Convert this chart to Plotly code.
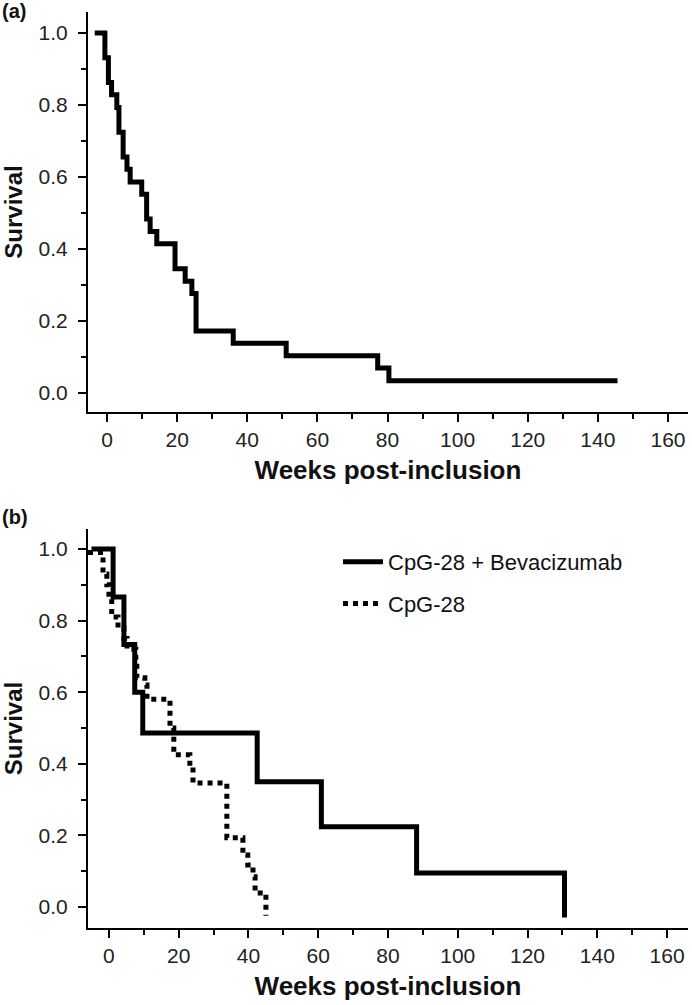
import plotly.graph_objects as go

# Panel (a): Kaplan-Meier, all patients
weeks_a = [-3.5, -0.6, 0.4, 1.3, 2.8, 3.4, 4.6, 5.7, 6.6, 9.9, 11.3, 12.3, 14.2,
           19.4, 22.3, 24.2, 25.4, 36.0, 51.1, 77.2, 80.4, 145.6]
surv_a = [1.0, 0.931, 0.862, 0.828, 0.793, 0.724, 0.655, 0.621, 0.586, 0.552, 0.483,
          0.448, 0.414, 0.345, 0.310, 0.276, 0.172, 0.138, 0.103, 0.069, 0.034, 0.034]

# Panel (b): CpG-28 + Bevacizumab
weeks_bev = [-5.0, 1.2, 4.3, 7.4, 9.7, 42.5, 60.9, 88.2, 130.6]
surv_bev = [1.0, 0.866, 0.733, 0.600, 0.486, 0.350, 0.224, 0.095, -0.03]

# Panel (b): CpG-28
weeks_cpg = [-6.0, -1.7, -0.6, 0.0, 0.8, 2.6, 4.3, 5.2, 7.7, 8.0, 10.3, 10.9, 17.5,
             18.6, 23.2, 24.1, 33.8, 38.4, 39.8, 41.3, 41.9, 45.0]
surv_cpg = [0.99, 0.93, 0.90, 0.86, 0.81, 0.78, 0.75, 0.72, 0.69, 0.64, 0.62, 0.58, 0.50,
            0.425, 0.39, 0.346, 0.193, 0.145, 0.117, 0.084, 0.039, -0.025]

names = ["CpG-28 + Bevacizumab", "CpG-28"]
y_ticks = [0.0, 0.2, 0.4, 0.6, 0.8, 1.0]
y_ticktext = ["0.0", "0.2", "0.4", "0.6", "0.8", "1.0"]
x_ticks = [0, 20, 40, 60, 80, 100, 120, 140, 160]

FONT = "Arial, Liberation Sans, sans-serif"
W, H = 692, 1005
ML, MR, MT, MB = 88, 4, 12, 77
PH = H - MT - MB

def py(px):
    return (H - MB - px) / PH

fig = go.Figure()

fig.add_trace(go.Scatter(x=weeks_a, y=surv_a, mode="lines", line_shape="hv",
                         line=dict(color="black", width=5), showlegend=False,
                         xaxis="x", yaxis="y"))
fig.add_trace(go.Scatter(x=weeks_bev, y=surv_bev, mode="lines", line_shape="hv",
                         name=names[0], legendgroup="g1",
                         line=dict(color="black", width=5),
                         xaxis="x2", yaxis="y2"))
fig.add_trace(go.Scatter(x=weeks_cpg, y=surv_cpg, mode="lines", line_shape="hv",
                         name=names[1], legendgroup="g2",
                         line=dict(color="black", width=5, dash="5px,5px"),
                         xaxis="x2", yaxis="y2"))

axis_common = dict(showline=True, linecolor="black", linewidth=2, ticks="outside",
                   ticklen=8, tickwidth=2, tickcolor="black", showgrid=False,
                   zeroline=False, tickfont=dict(family=FONT, size=21, color="#222"),
                   mirror=False)

xa = dict(axis_common, tickvals=x_ticks, ticktext=[str(v) for v in x_ticks],
          minor=dict(dtick=10, tick0=0, ticks="outside", ticklen=5, tickwidth=2,
                     tickcolor="black", showgrid=False),
          title=dict(text="Weeks post-inclusion", standoff=11,
                     font=dict(family=FONT, size=26, color="#111", weight="bold")))
ya = dict(axis_common, tickvals=y_ticks, ticktext=y_ticktext, ticklabelstandoff=6,
          minor=dict(dtick=0.1, tick0=0, ticks="outside", ticklen=5, tickwidth=2,
                     tickcolor="black", showgrid=False),
          title=dict(text="Survival", standoff=15,
                     font=dict(family=FONT, size=24, color="#111", weight="bold")))

fig.update_layout(
    width=W, height=H,
    margin=dict(l=ML, r=MR, t=MT, b=MB),
    paper_bgcolor="white", plot_bgcolor="white",
    xaxis=dict(xa, range=[-5.42, 165.7], domain=[0, 1], anchor="y"),
    yaxis=dict(ya, range=[-0.053, 1.058], domain=[py(412), 1.0], anchor="x"),
    xaxis2=dict(xa, range=[-6.0, 166.0], domain=[0, 1], anchor="y2"),
    yaxis2=dict(ya, range=[-0.059, 1.056], domain=[0.0, py(529)], anchor="x2"),
    legend=dict(x=(338 - ML) / 600, y=py(541), xanchor="left", yanchor="top",
                font=dict(family=FONT, size=22, color="#111"),
                bgcolor="rgba(0,0,0,0)", traceorder="grouped", tracegroupgap=10,
                itemwidth=40),
    annotations=[
        dict(text="(a)", xref="paper", yref="paper", x=-ML / 600, y=py(-2),
             xanchor="left", yanchor="top", showarrow=False,
             font=dict(family=FONT, size=20, color="#111", weight="bold")),
        dict(text="(b)", xref="paper", yref="paper", x=-ML / 600, y=py(504),
             xanchor="left", yanchor="top", showarrow=False,
             font=dict(family=FONT, size=20, color="#111", weight="bold")),
    ],
)

fig.write_html("out.html", config={"displayModeBar": False},
               post_script="document.body.style.margin='0';"
                           "document.body.style.overflow='hidden';")
